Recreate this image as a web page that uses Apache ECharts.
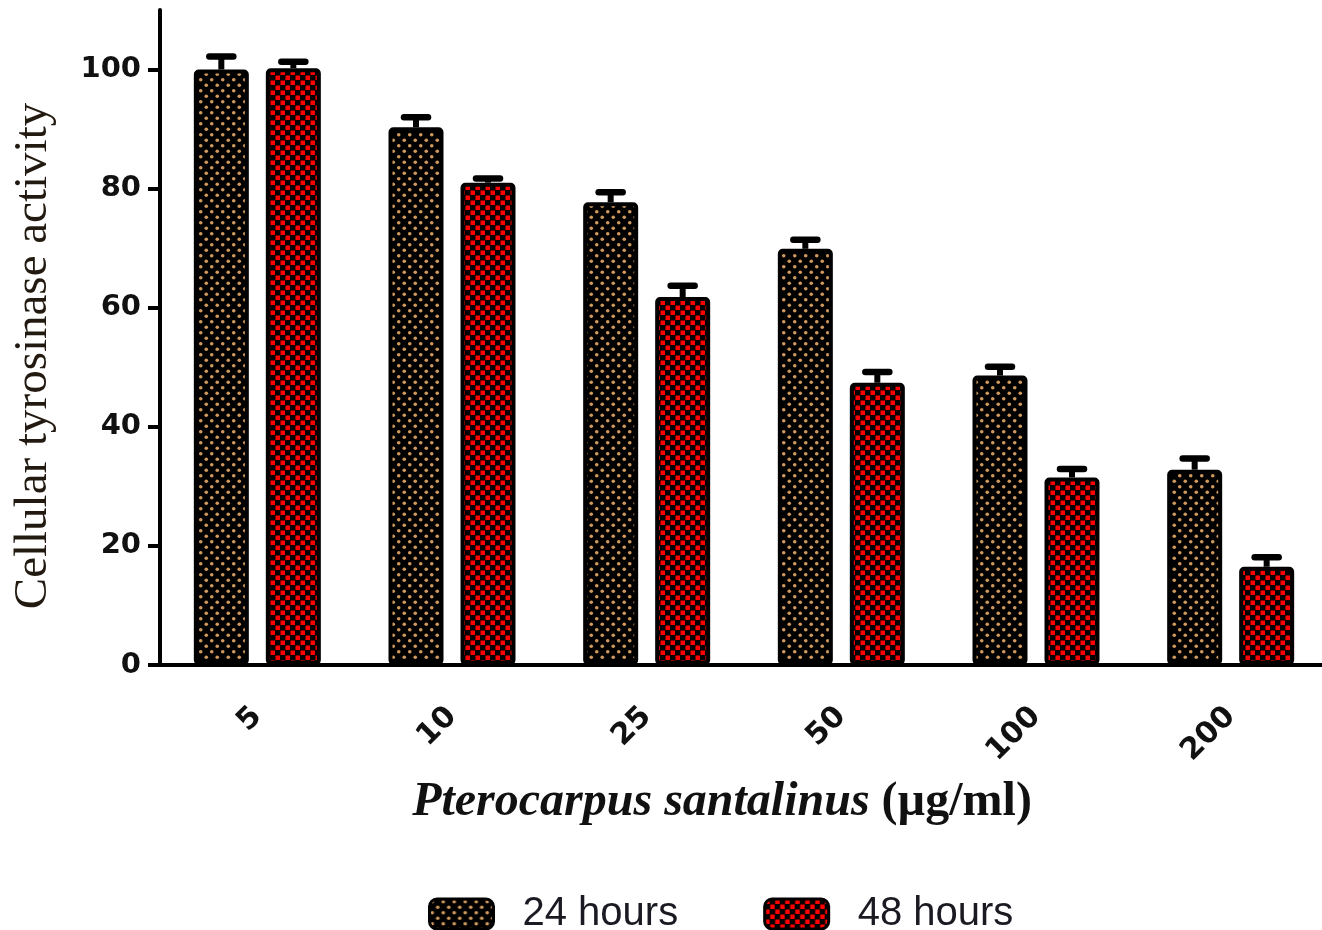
<!DOCTYPE html>
<html>
<head>
<meta charset="utf-8">
<script src="https://cdn.jsdelivr.net/npm/echarts@6/dist/echarts.min.js"></script>
<style>
html,body{margin:0;padding:0;background:#fff;overflow:hidden;}
#main{width:1340px;height:930px;}
</style>
</head>
<body>
<div id="main"></div>
<script>
// ---- data ----
var categories = ['5', '10', '25', '50', '100', '200'];
var seriesNames = ['24 hours', '48 hours'];
var values24 = [100, 90.3, 77.7, 69.9, 48.6, 32.8];
var errors24 = [2.2, 1.7, 1.7, 1.5, 1.5, 1.9];
var values48 = [100.2, 81.0, 61.8, 47.4, 31.5, 16.5];
var errors48 = [1.1, 0.7, 1.9, 1.8, 1.4, 1.6];
var yTicks = [0, 20, 40, 60, 80, 100];

// ---- patterns ----
function dotPattern() {
  var c = document.createElement('canvas');
  c.width = 11; c.height = 11;
  var g = c.getContext('2d');
  g.fillStyle = '#000'; g.fillRect(0, 0, 11, 11);
  g.fillStyle = '#d09a5e';
  [[2.75, 2.75], [8.25, 8.25]].forEach(function (p) {
    g.beginPath(); g.arc(p[0], p[1], 1.8, 0, Math.PI * 2); g.fill();
  });
  return c;
}
function checkPattern() {
  var c = document.createElement('canvas');
  c.width = 10; c.height = 10;
  var g = c.getContext('2d');
  g.fillStyle = '#000'; g.fillRect(0, 0, 10, 10);
  g.fillStyle = '#ff0000';
  g.fillRect(0.5, 0.5, 4.5, 4.5);
  g.fillRect(5.5, 5.5, 4.5, 4.5);
  return c;
}
var fills = [
  { image: dotPattern(), repeat: 'repeat' },
  { image: checkPattern(), repeat: 'repeat' }
];

var BAR_W = 55, BAR_GAP = 17;
var allValues = [values24, values48];
var allErrors = [errors24, errors48];

function errorRender(si) {
  return function (params, api) {
    var idx = api.value(0);
    var v = api.value(1), e = api.value(2);
    var off = (si === 0 ? -1 : 1) * (BAR_W + BAR_GAP) / 2;
    var p0 = api.coord([idx, v]);
    var p1 = api.coord([idx, v + e]);
    var x = p0[0] + off;
    return {
      type: 'group',
      children: [
        { type: 'line', shape: { x1: x, y1: p0[1], x2: x, y2: p1[1] },
          style: { stroke: '#000', lineWidth: 6 } },
        { type: 'line', shape: { x1: x - 12, y1: p1[1], x2: x + 12, y2: p1[1] },
          style: { stroke: '#000', lineWidth: 6.5, lineCap: 'round' } }
      ]
    };
  };
}

var series = [];
seriesNames.forEach(function (name, si) {
  series.push({
    name: name,
    type: 'bar',
    data: allValues[si],
    barWidth: BAR_W,
    barGap: (BAR_GAP / BAR_W * 100) + '%',
    itemStyle: { color: fills[si], borderColor: '#000', borderWidth: 4, borderRadius: 3 },
    emphasis: { disabled: true },
    z: 2
  });
});
seriesNames.forEach(function (name, si) {
  series.push({
    type: 'custom',
    name: name + ' err',
    renderItem: errorRender(si),
    data: allValues[si].map(function (v, i) { return [i, v, allErrors[si][i]]; }),
    encode: { x: 0, y: 1 },
    z: 3,
    silent: true
  });
});

var chart = echarts.init(document.getElementById('main'));
chart.setOption({
  animation: false,
  backgroundColor: '#fff',
  grid: { left: 160, top: 10, width: 1168, height: 655, containLabel: false },
  legend: {
    data: seriesNames,
    left: 423, top: 889,
    itemWidth: 64, itemHeight: 30,
    itemGap: 85,
    icon: 'roundRect',
    itemStyle: { borderColor: '#000', borderWidth: 3 },
    textStyle: { fontFamily: 'Liberation Sans', fontSize: 40, color: '#1a1a22', padding: [0, 0, 0, 24] }
  },
  xAxis: {
    type: 'category',
    data: categories,
    axisLine: { lineStyle: { color: '#000', width: 4 } },
    axisTick: { alignWithLabel: true, length: 15, lineStyle: { color: '#000', width: 4 } },
    axisLabel: { rotate: 45, margin: 47, fontFamily: 'DejaVu Sans', fontWeight: 'bold', fontSize: 30, color: '#111' }
  },
  yAxis: {
    type: 'value',
    min: 0, max: 110, interval: 20,
    splitLine: { show: false },
    axisLine: { show: true, lineStyle: { color: '#000', width: 4 } },
    axisTick: { show: true, length: 12, customValues: yTicks, lineStyle: { color: '#000', width: 4 } },
    axisLabel: { margin: 19, customValues: yTicks, fontFamily: 'DejaVu Sans', fontWeight: 'bold', fontSize: 29, color: '#111' }
  },
  graphic: [
    {
      type: 'text',
      x: 34, y: 356,
      rotation: Math.PI / 2,
      style: {
        text: 'Cellular tyrosinase activity',
        fontFamily: 'Liberation Serif', fontSize: 47, fill: '#221a10',
        textAlign: 'center', textVerticalAlign: 'middle'
      }
    },
    {
      type: 'text',
      x: 722, y: 803,
      style: {
        text: '{i|Pterocarpus santalinus }{b|(µg/ml)}',
        textAlign: 'center', textVerticalAlign: 'middle',
        rich: {
          i: { fontFamily: 'Liberation Serif', fontStyle: 'italic', fontWeight: 'bold', fontSize: 48, fill: '#111' },
          b: { fontFamily: 'Liberation Serif', fontWeight: 'bold', fontSize: 48, fill: '#111' }
        }
      }
    }
  ],
  series: series
});
</script>
</body>
</html>
